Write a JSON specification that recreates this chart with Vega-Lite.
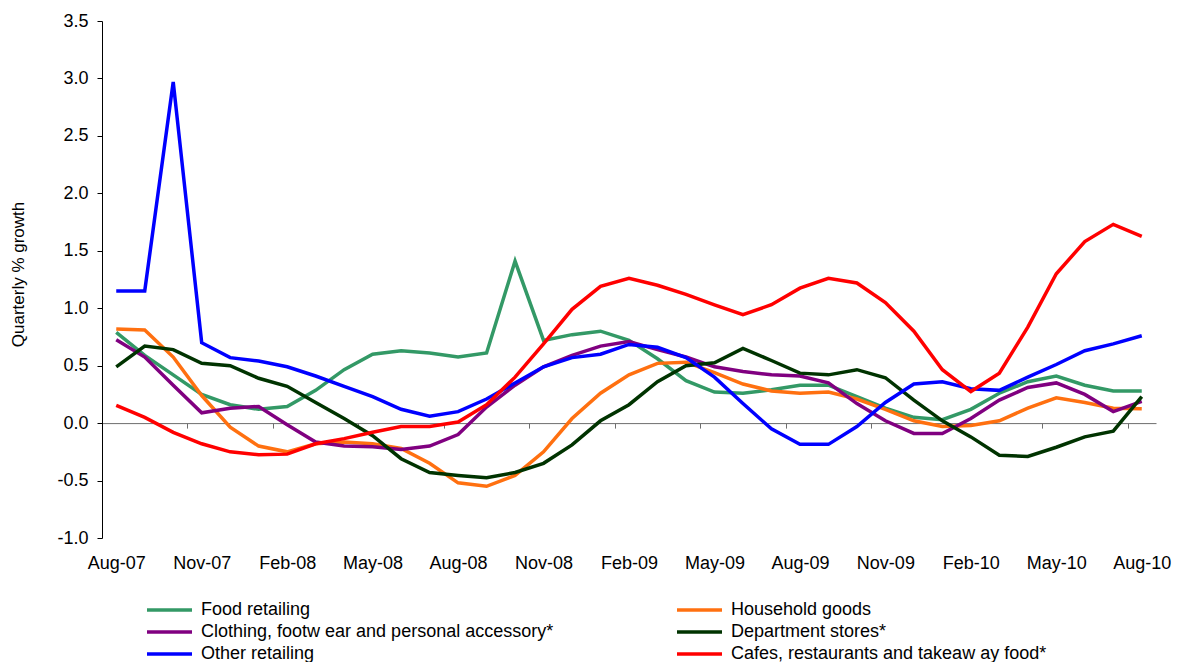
{
  "$schema": "https://vega.github.io/schema/vega-lite/v6.json",
  "width": 1054,
  "height": 517,
  "autosize": {"type": "none"},
  "padding": {"left": 102, "top": 21, "right": 21, "bottom": 124},
  "background": "white",
  "config": {
    "font": "Liberation Sans",
    "view": {"stroke": null},
    "axis": {"grid": false, "labelColor": "black", "titleColor": "black"}
  },
  "data": {
    "values": [
      {"month": "Aug-07", "Food retailing": 0.79, "Household goods": 0.82, "Clothing, footw ear and personal accessory*": 0.725, "Department stores*": 0.49, "Other retailing": 1.15, "Cafes, restaurants and takeaw ay food*": 0.155},
      {"month": "Sep-07", "Food retailing": 0.59, "Household goods": 0.81, "Clothing, footw ear and personal accessory*": 0.575, "Department stores*": 0.67, "Other retailing": 1.15, "Cafes, restaurants and takeaw ay food*": 0.05},
      {"month": "Oct-07", "Food retailing": 0.42, "Household goods": 0.575, "Clothing, footw ear and personal accessory*": 0.33, "Department stores*": 0.64, "Other retailing": 2.97, "Cafes, restaurants and takeaw ay food*": -0.08},
      {"month": "Nov-07", "Food retailing": 0.25, "Household goods": 0.24, "Clothing, footw ear and personal accessory*": 0.09, "Department stores*": 0.52, "Other retailing": 0.70, "Cafes, restaurants and takeaw ay food*": -0.18},
      {"month": "Dec-07", "Food retailing": 0.16, "Household goods": -0.035, "Clothing, footw ear and personal accessory*": 0.13, "Department stores*": 0.50, "Other retailing": 0.57, "Cafes, restaurants and takeaw ay food*": -0.25},
      {"month": "Jan-08", "Food retailing": 0.12, "Household goods": -0.20, "Clothing, footw ear and personal accessory*": 0.145, "Department stores*": 0.39, "Other retailing": 0.54, "Cafes, restaurants and takeaw ay food*": -0.275},
      {"month": "Feb-08", "Food retailing": 0.145, "Household goods": -0.25, "Clothing, footw ear and personal accessory*": -0.015, "Department stores*": 0.32, "Other retailing": 0.49, "Cafes, restaurants and takeaw ay food*": -0.27},
      {"month": "Mar-08", "Food retailing": 0.285, "Household goods": -0.18, "Clothing, footw ear and personal accessory*": -0.165, "Department stores*": 0.18, "Other retailing": 0.41, "Cafes, restaurants and takeaw ay food*": -0.18},
      {"month": "Apr-08", "Food retailing": 0.465, "Household goods": -0.165, "Clothing, footw ear and personal accessory*": -0.20, "Department stores*": 0.04, "Other retailing": 0.32, "Cafes, restaurants and takeaw ay food*": -0.135},
      {"month": "May-08", "Food retailing": 0.60, "Household goods": -0.18, "Clothing, footw ear and personal accessory*": -0.205, "Department stores*": -0.11, "Other retailing": 0.23, "Cafes, restaurants and takeaw ay food*": -0.08},
      {"month": "Jun-08", "Food retailing": 0.63, "Household goods": -0.22, "Clothing, footw ear and personal accessory*": -0.23, "Department stores*": -0.31, "Other retailing": 0.12, "Cafes, restaurants and takeaw ay food*": -0.03},
      {"month": "Jul-08", "Food retailing": 0.61, "Household goods": -0.35, "Clothing, footw ear and personal accessory*": -0.20, "Department stores*": -0.43, "Other retailing": 0.06, "Cafes, restaurants and takeaw ay food*": -0.03},
      {"month": "Aug-08", "Food retailing": 0.575, "Household goods": -0.52, "Clothing, footw ear and personal accessory*": -0.10, "Department stores*": -0.455, "Other retailing": 0.10, "Cafes, restaurants and takeaw ay food*": 0.01},
      {"month": "Sep-08", "Food retailing": 0.61, "Household goods": -0.55, "Clothing, footw ear and personal accessory*": 0.14, "Department stores*": -0.475, "Other retailing": 0.21, "Cafes, restaurants and takeaw ay food*": 0.16},
      {"month": "Oct-08", "Food retailing": 1.41, "Household goods": -0.455, "Clothing, footw ear and personal accessory*": 0.33, "Department stores*": -0.43, "Other retailing": 0.35, "Cafes, restaurants and takeaw ay food*": 0.40},
      {"month": "Nov-08", "Food retailing": 0.72, "Household goods": -0.25, "Clothing, footw ear and personal accessory*": 0.49, "Department stores*": -0.35, "Other retailing": 0.49, "Cafes, restaurants and takeaw ay food*": 0.69},
      {"month": "Dec-08", "Food retailing": 0.77, "Household goods": 0.04, "Clothing, footw ear and personal accessory*": 0.59, "Department stores*": -0.19, "Other retailing": 0.57, "Cafes, restaurants and takeaw ay food*": 0.99},
      {"month": "Jan-09", "Food retailing": 0.80, "Household goods": 0.26, "Clothing, footw ear and personal accessory*": 0.67, "Department stores*": 0.02, "Other retailing": 0.60, "Cafes, restaurants and takeaw ay food*": 1.19},
      {"month": "Feb-09", "Food retailing": 0.72, "Household goods": 0.42, "Clothing, footw ear and personal accessory*": 0.71, "Department stores*": 0.16, "Other retailing": 0.685, "Cafes, restaurants and takeaw ay food*": 1.26},
      {"month": "Mar-09", "Food retailing": 0.56, "Household goods": 0.52, "Clothing, footw ear and personal accessory*": 0.64, "Department stores*": 0.36, "Other retailing": 0.66, "Cafes, restaurants and takeaw ay food*": 1.20},
      {"month": "Apr-09", "Food retailing": 0.37, "Household goods": 0.53, "Clothing, footw ear and personal accessory*": 0.575, "Department stores*": 0.50, "Other retailing": 0.57, "Cafes, restaurants and takeaw ay food*": 1.12},
      {"month": "May-09", "Food retailing": 0.27, "Household goods": 0.44, "Clothing, footw ear and personal accessory*": 0.49, "Department stores*": 0.525, "Other retailing": 0.40, "Cafes, restaurants and takeaw ay food*": 1.03},
      {"month": "Jun-09", "Food retailing": 0.26, "Household goods": 0.34, "Clothing, footw ear and personal accessory*": 0.45, "Department stores*": 0.65, "Other retailing": 0.17, "Cafes, restaurants and takeaw ay food*": 0.945},
      {"month": "Jul-09", "Food retailing": 0.29, "Household goods": 0.28, "Clothing, footw ear and personal accessory*": 0.42, "Department stores*": 0.545, "Other retailing": -0.05, "Cafes, restaurants and takeaw ay food*": 1.03},
      {"month": "Aug-09", "Food retailing": 0.33, "Household goods": 0.26, "Clothing, footw ear and personal accessory*": 0.41, "Department stores*": 0.435, "Other retailing": -0.185, "Cafes, restaurants and takeaw ay food*": 1.175},
      {"month": "Sep-09", "Food retailing": 0.33, "Household goods": 0.27, "Clothing, footw ear and personal accessory*": 0.35, "Department stores*": 0.42, "Other retailing": -0.185, "Cafes, restaurants and takeaw ay food*": 1.26},
      {"month": "Oct-09", "Food retailing": 0.23, "Household goods": 0.21, "Clothing, footw ear and personal accessory*": 0.17, "Department stores*": 0.465, "Other retailing": -0.03, "Cafes, restaurants and takeaw ay food*": 1.22},
      {"month": "Nov-09", "Food retailing": 0.13, "Household goods": 0.12, "Clothing, footw ear and personal accessory*": 0.02, "Department stores*": 0.395, "Other retailing": 0.18, "Cafes, restaurants and takeaw ay food*": 1.05},
      {"month": "Dec-09", "Food retailing": 0.05, "Household goods": 0.02, "Clothing, footw ear and personal accessory*": -0.09, "Department stores*": 0.20, "Other retailing": 0.34, "Cafes, restaurants and takeaw ay food*": 0.80},
      {"month": "Jan-10", "Food retailing": 0.03, "Household goods": -0.03, "Clothing, footw ear and personal accessory*": -0.09, "Department stores*": 0.02, "Other retailing": 0.36, "Cafes, restaurants and takeaw ay food*": 0.465},
      {"month": "Feb-10", "Food retailing": 0.12, "Household goods": -0.02, "Clothing, footw ear and personal accessory*": 0.04, "Department stores*": -0.12, "Other retailing": 0.30, "Cafes, restaurants and takeaw ay food*": 0.275},
      {"month": "Mar-10", "Food retailing": 0.26, "Household goods": 0.02, "Clothing, footw ear and personal accessory*": 0.20, "Department stores*": -0.28, "Other retailing": 0.285, "Cafes, restaurants and takeaw ay food*": 0.435},
      {"month": "Apr-10", "Food retailing": 0.36, "Household goods": 0.13, "Clothing, footw ear and personal accessory*": 0.31, "Department stores*": -0.29, "Other retailing": 0.40, "Cafes, restaurants and takeaw ay food*": 0.835},
      {"month": "May-10", "Food retailing": 0.41, "Household goods": 0.22, "Clothing, footw ear and personal accessory*": 0.35, "Department stores*": -0.21, "Other retailing": 0.51, "Cafes, restaurants and takeaw ay food*": 1.30},
      {"month": "Jun-10", "Food retailing": 0.33, "Household goods": 0.18, "Clothing, footw ear and personal accessory*": 0.25, "Department stores*": -0.12, "Other retailing": 0.63, "Cafes, restaurants and takeaw ay food*": 1.58},
      {"month": "Jul-10", "Food retailing": 0.28, "Household goods": 0.13, "Clothing, footw ear and personal accessory*": 0.10, "Department stores*": -0.07, "Other retailing": 0.69, "Cafes, restaurants and takeaw ay food*": 1.73},
      {"month": "Aug-10", "Food retailing": 0.28, "Household goods": 0.125, "Clothing, footw ear and personal accessory*": 0.19, "Department stores*": 0.23, "Other retailing": 0.76, "Cafes, restaurants and takeaw ay food*": 1.625}
    ]
  },
  "transform": [
    {"fold": ["Food retailing", "Household goods", "Clothing, footw ear and personal accessory*", "Department stores*", "Other retailing", "Cafes, restaurants and takeaw ay food*"], "as": ["series", "value"]}
  ],
  "mark": {"type": "line", "strokeWidth": 3.5},
  "encoding": {
    "x": {
      "field": "month",
      "type": "ordinal",
      "sort": null,
      "scale": {"type": "point", "padding": 0.5},
      "axis": {
        "title": null,
        "orient": "bottom",
        "values": ["Aug-07", "Nov-07", "Feb-08", "May-08", "Aug-08", "Nov-08", "Feb-09", "May-09", "Aug-09", "Nov-09", "Feb-10", "May-10", "Aug-10"],
        "labelAngle": 0,
        "offset": -114.9,
        "domainColor": "#6e6e6e",
        "domainWidth": 1,
        "tickColor": "#6e6e6e",
        "tickSize": 5,
        "tickOffset": 71.22,
        "labelOffset": -71.22,
        "labelPadding": 126,
        "labelFontSize": 18,
        "labelBaseline": "top"
      }
    },
    "y": {
      "field": "value",
      "type": "quantitative",
      "scale": {"domain": [-1, 3.5], "nice": false, "zero": false},
      "axis": {
        "title": "Quarterly % growth",
        "titleFontSize": 17,
        "titleFontWeight": "normal",
        "titleAngle": 270,
        "titleX": -84,
        "titleY": 253,
        "titleAlign": "center",
        "titleBaseline": "middle",
        "values": [-1, -0.5, 0, 0.5, 1, 1.5, 2, 2.5, 3, 3.5],
        "labelExpr": "replace(format(datum.value, '.1f'), '\u2212', '-')",
        "labelFontSize": 18,
        "labelPadding": 9,
        "tickSize": 5,
        "tickColor": "black",
        "domainColor": "black"
      }
    },
    "color": {
      "field": "series",
      "type": "nominal",
      "scale": {
        "domain": ["Food retailing", "Clothing, footw ear and personal accessory*", "Other retailing", "Household goods", "Department stores*", "Cafes, restaurants and takeaw ay food*"],
        "range": ["#339966", "#800080", "#0000FF", "#FF7010", "#003300", "#FF0000"]
      },
      "legend": {
        "title": null,
        "orient": "none",
        "legendX": 43,
        "legendY": 581,
        "columns": 2,
        "symbolType": "stroke",
        "symbolSize": 2025,
        "symbolStrokeWidth": 3.5,
        "clipHeight": 16,
        "rowPadding": 4,
        "columnPadding": 121,
        "labelFontSize": 18,
        "labelLimit": 1000,
        "labelOffset": 7,
        "labelColor": "black",
        "padding": 0
      }
    }
  }
}
